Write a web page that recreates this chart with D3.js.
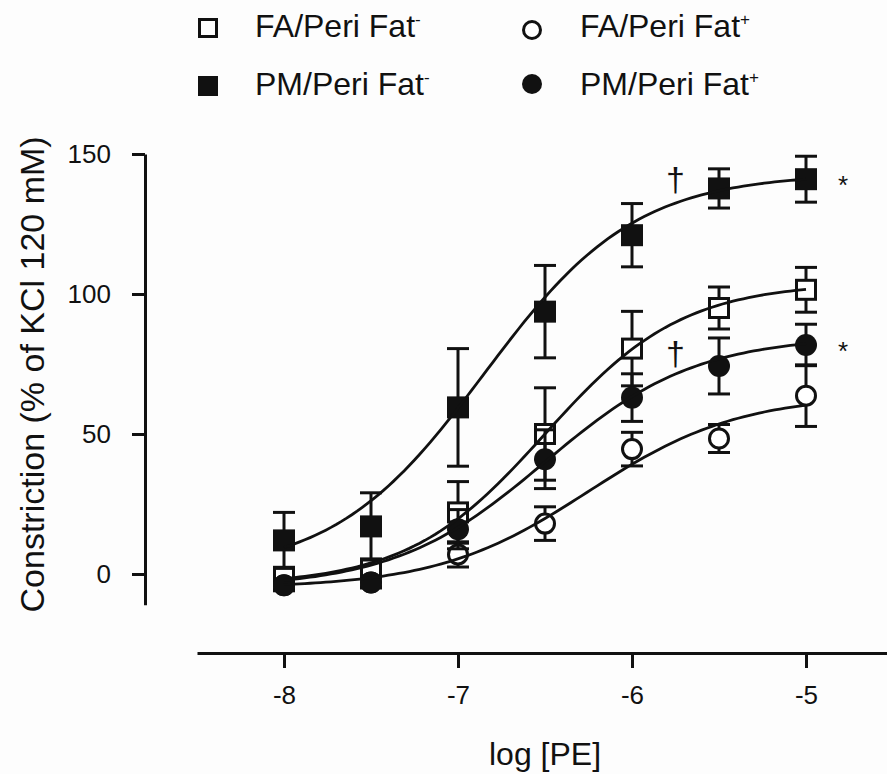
<!DOCTYPE html>
<html>
<head>
<meta charset="utf-8">
<script src="https://cdn.jsdelivr.net/npm/d3@7"></script>
<style>
  body { margin: 0; background: #fdfdfd; }
  svg { display: block; font-family: "Liberation Sans", Arial, sans-serif; }
</style>
</head>
<body>
<div id="chart"></div>
<script>
const width = 887;
const height = 774;

// log [PE] concentrations
const logPE = [-8, -7.5, -7, -6.5, -6, -5.5, -5];

// means and SEM (% of KCl 120 mM)
const faMinus = [-1, 2, 22, 50, 80.5, 95, 101.5];
const faMinusErr = [2, 3, 11, 16.5, 13.3, 7.5, 8];
const pmMinus = [12, 17, 59.5, 93.7, 121, 137.7, 141];
const pmMinusErr = [10, 12, 21, 16.5, 11.3, 7, 8.2];
const faPlus = [-4, -3, 7, 18, 44.6, 48.4, 63.7];
const faPlusErr = [1.5, 1.5, 4.5, 6, 6, 5, 11];
const pmPlus = [-4, -3, 16, 41, 63, 74.3, 81.8];
const pmPlusErr = [2, 2, 7, 10.5, 8.5, 10, 7.4];

// sigmoid fit parameters [bottom, top, logEC50, hill]
const faMinusFit = [-4, 104, -6.5, 1.1];
const pmMinusFit = [0, 143, -6.85, 1];
const faPlusFit = [-5, 64, -6.25, 1];
const pmPlusFit = [-5, 85, -6.5, 1];

const xTicks = [-8, -7, -6, -5];
const yTicks = [0, 50, 100, 150];

// significance marks
const daggers = [{ x: -5.75, y: 141 }, { x: -5.75, y: 79 }];
const stars = [{ x: -5, y: 141 }, { x: -5, y: 81.8 }];

const series = [
    { name: "FA/Peri Fat", sup: "-", shape: "square", filled: false, values: faMinus, err: faMinusErr, fit: faMinusFit },
    { name: "PM/Peri Fat", sup: "-", shape: "square", filled: true, values: pmMinus, err: pmMinusErr, fit: pmMinusFit },
    { name: "FA/Peri Fat", sup: "+", shape: "circle", filled: false, values: faPlus, err: faPlusErr, fit: faPlusFit },
    { name: "PM/Peri Fat", sup: "+", shape: "circle", filled: true, values: pmPlus, err: pmPlusErr, fit: pmPlusFit }
];

const ink = "#111";

const svg = d3.select("#chart").append("svg")
    .attr("width", width)
    .attr("height", height);

const x = d3.scaleLinear().domain([-8, -5]).range([284, 806]);
const y = d3.scaleLinear().domain([0, 150]).range([574, 154]);

// axes (lines run a bit past the tick range, like the original)
const xAxisScale = x.copy().domain([-8.5, -4.45]).range([x(-8.5), x(-4.45)]);
const yAxisScale = y.copy().domain([-11, 150]).range([y(-11), y(150)]);

const xAxis = svg.append("g")
    .attr("transform", `translate(0, 653)`)
    .call(d3.axisBottom(xAxisScale).tickValues(xTicks).tickSize(15).tickSizeOuter(0).tickPadding(18)
        .tickFormat(d => d));

const yAxis = svg.append("g")
    .attr("transform", `translate(145, 0)`)
    .call(d3.axisLeft(yAxisScale).tickValues(yTicks).tickSize(13).tickSizeOuter(0).tickPadding(21));

[xAxis, yAxis].forEach(g => {
    g.select(".domain").attr("stroke", ink).attr("stroke-width", 3);
    g.selectAll(".tick line").attr("stroke", ink).attr("stroke-width", 3);
    g.selectAll(".tick text").attr("fill", ink).style("font-size", "26px")
        .style("font-family", "'Liberation Sans', Arial, sans-serif");
});

svg.append("text")
    .attr("x", (x(-8) + x(-5)) / 2)
    .attr("y", 765)
    .attr("text-anchor", "middle")
    .style("font-size", "32px")
    .attr("fill", ink)
    .text("log [PE]");

svg.append("text")
    .attr("transform", `translate(44, ${(y(150) + y(-11)) / 2 - 5}) rotate(-90)`)
    .attr("text-anchor", "middle")
    .style("font-size", "34px")
    .attr("fill", ink)
    .text("Constriction (% of KCl 120 mM)");

// error bars + markers
const markerSize = 22;
const capW = 22;

function drawMarker(g, s, cx, cy, size) {
    if (s.shape === "square") {
        const inset = s.filled ? 0 : 1.5;
        g.append("rect")
            .attr("x", cx - size / 2 + inset)
            .attr("y", cy - size / 2 + inset)
            .attr("width", size - 2 * inset)
            .attr("height", size - 2 * inset)
            .attr("fill", s.filled ? ink : "#fff")
            .attr("stroke", ink)
            .attr("stroke-width", s.filled ? 0 : 3);
    } else {
        g.append("circle")
            .attr("cx", cx)
            .attr("cy", cy)
            .attr("r", s.filled ? size / 2 : size / 2 - 1.5)
            .attr("fill", s.filled ? ink : "#fff")
            .attr("stroke", ink)
            .attr("stroke-width", s.filled ? 0 : 3);
    }
}

const plot = svg.append("g");

series.forEach(s => {
    const g = plot.append("g");
    logPE.forEach((lx, i) => {
        const cx = x(lx);
        const v = s.values[i];
        const e = s.err[i];
        g.append("line")
            .attr("x1", cx).attr("x2", cx)
            .attr("y1", y(v + e)).attr("y2", y(v - e))
            .attr("stroke", ink).attr("stroke-width", 3);
        [v + e, v - e].forEach(t => {
            g.append("line")
                .attr("x1", cx - capW / 2).attr("x2", cx + capW / 2)
                .attr("y1", y(t)).attr("y2", y(t))
                .attr("stroke", ink).attr("stroke-width", 3);
        });
    });
    logPE.forEach((lx, i) => drawMarker(g, s, x(lx), y(s.values[i]), markerSize));
});

// fitted curves
function sigmoid(p, lx) {
    return p[0] + (p[1] - p[0]) / (1 + Math.pow(10, (p[2] - lx) * p[3]));
}
const curveX = d3.range(0, 101).map(i => -8 + i * 0.03);
const line = d3.line()
    .x(d => x(d[0]))
    .y(d => y(d[1]));

series.forEach(s => {
    plot.append("path")
        .datum(curveX.map(lx => [lx, sigmoid(s.fit, lx)]))
        .attr("d", line)
        .attr("fill", "none")
        .attr("stroke", ink)
        .attr("stroke-width", 2.8);
});

// † and * marks
svg.selectAll(".dagger")
    .data(daggers)
    .enter()
    .append("text")
    .attr("class", "dagger")
    .attr("x", d => x(d.x))
    .attr("y", d => y(d.y) + 12)
    .attr("text-anchor", "middle")
    .style("font-size", "34px")
    .attr("fill", ink)
    .text("†");

svg.selectAll(".star")
    .data(stars)
    .enter()
    .append("text")
    .attr("class", "star")
    .attr("x", d => x(d.x) + 37)
    .attr("y", d => y(d.y) + 15)
    .attr("text-anchor", "middle")
    .style("font-size", "26px")
    .attr("fill", ink)
    .text("*");

// legend
const legendPos = [
    { mx: 208, my: 28, tx: 255, ty: 37 },
    { mx: 208, my: 86, tx: 255, ty: 95 },
    { mx: 532, my: 30, tx: 580, ty: 37 },
    { mx: 532, my: 84, tx: 580, ty: 95 }
];

series.forEach((s, i) => {
    const p = legendPos[i];
    const g = svg.append("g");
    drawMarker(g, s, p.mx, p.my, 20);
    const t = g.append("text")
        .attr("x", p.tx)
        .attr("y", p.ty)
        .style("font-size", "32px")
        .attr("fill", ink)
        .text(s.name);
    t.append("tspan")
        .attr("dy", -12)
        .style("font-size", "17px")
        .text(s.sup === "-" ? "-" : "+");
});
</script>
</body>
</html>
